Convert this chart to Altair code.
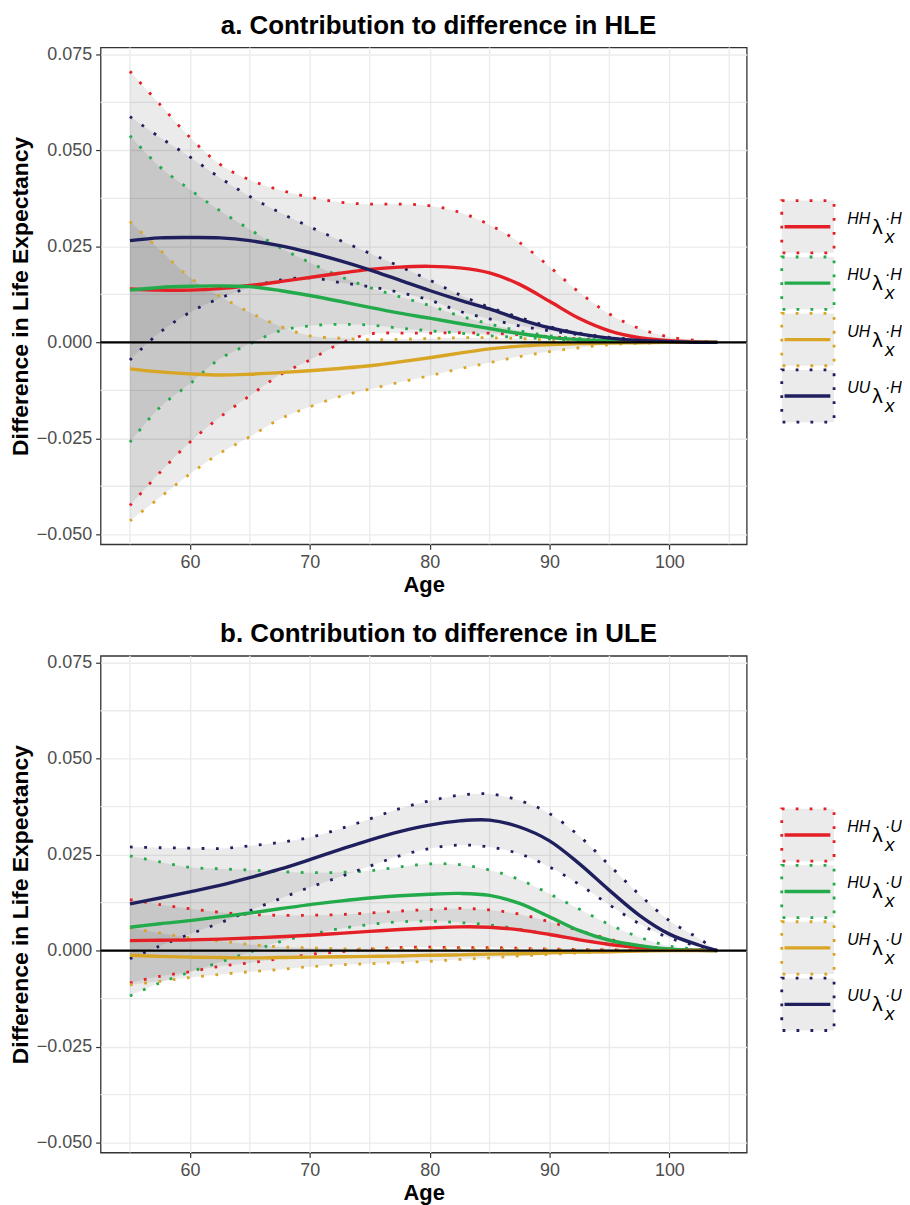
import altair as alt
import pandas as pd

# ---------------- data ----------------
ages = [55, 57.5, 60, 62.5, 65, 67.5, 70, 72.5, 75, 77.5, 80, 82.5, 85, 87.5, 90, 92.5, 95, 97.5, 100, 102.5, 104]

series_names = ["HH", "HU", "UH", "UU"]
series_colors = ["#E41F26", "#22AA4B", "#D9A525", "#1F1F5E"]

# panel a: contribution to difference in HLE
hle_HH_mid = [.0139, .0136, .0136, .0140, .0148, .0158, .0169, .0180, .0190, .0196, .0198, .0194, .0181, .0151, .0107, .0062, .0030, .0012, .0004, .0001, 0]
hle_HH_hi = [.0706, .0620, .0534, .0464, .0423, .0397, .0378, .0365, .0360, .0360, .0356, .0339, .0306, .0260, .0197, .0130, .0074, .0036, .0014, .0004, 0]
hle_HH_lo = [-.0425, -.0339, -.0260, -.0195, -.0139, -.0085, -.0046, -.0004, .0022, .0024, .0024, .0025, .0024, .0020, .0015, .0009, .0005, .0002, 0, 0, 0]

hle_HU_mid = [.0136, .0143, .0146, .0147, .0145, .0135, .0122, .0107, .0091, .0076, .0063, .0049, .0036, .0023, .0013, .0007, .0004, .0002, .0001, 0, 0]
hle_HU_hi = [.0538, .0457, .0398, .0343, .0294, .0247, .0208, .0172, .0143, .0119, .0096, .0069, .0048, .0030, .0017, .0010, .0005, .0002, .0001, 0, 0]
hle_HU_lo = [-.0260, -.0169, -.0108, -.0043, -.0004, .0030, .0043, .0047, .0045, .0037, .0030, .0024, .0017, .0013, .0009, .0005, .0003, .0001, 0, 0, 0]

hle_UH_mid = [-.0069, -.0077, -.0082, -.0085, -.0083, -.0079, -.0074, -.0068, -.0061, -.0051, -.0040, -.0028, -.0017, -.0010, -.0006, -.0003, -.0002, -.0001, 0, 0, 0]
hle_UH_hi = [.0315, .0241, .0169, .0120, .0078, .0042, .0017, .0011, .0007, .0008, .0010, .0012, .0012, .0010, .0006, .0004, .0002, .0001, 0, 0, 0]
hle_UH_lo = [-.0465, -.0404, -.0343, -.0289, -.0246, -.0200, -.0168, -.0141, -.0122, -.0104, -.0087, -.0069, -.0053, -.0037, -.0024, -.0014, -.0006, -.0003, 0, 0, 0]

hle_UU_mid = [.0265, .0272, .0273, .0272, .0265, .0252, .0234, .0213, .0189, .0162, .0135, .0110, .0087, .0060, .0038, .0022, .0011, .0005, .0002, 0, 0]
hle_UU_hi = [.0588, .0534, .0483, .0429, .0380, .0338, .0301, .0266, .0232, .0198, .0162, .0124, .0091, .0065, .0041, .0024, .0013, .0007, .0002, 0, 0]
hle_UU_lo = [-.0046, .0026, .0078, .0115, .0143, .0162, .0168, .0156, .0145, .0130, .0110, .0081, .0061, .0043, .0030, .0020, .0010, .0004, .0001, 0, 0]

# panel b: contribution to difference in ULE
ule_HH_mid = [.0026, .0027, .0028, .0030, .0033, .0036, .0040, .0045, .0050, .0055, .0059, .0062, .0061, .0054, .0042, .0028, .0016, .0008, .0003, .0001, 0]
ule_HH_hi = [.0133, .0120, .0109, .0100, .0094, .0092, .0092, .0094, .0098, .0103, .0107, .0110, .0106, .0095, .0075, .0052, .0030, .0013, .0004, .0001, 0]
ule_HH_lo = [-.0084, -.0067, -.0055, -.0041, -.0032, -.0021, -.0010, -.0003, .0004, .0008, .0009, .0008, .0008, .0006, .0004, .0003, .0002, .0001, 0, 0, 0]

ule_HU_mid = [.0061, .0070, .0078, .0088, .0098, .0109, .0120, .0129, .0137, .0143, .0147, .0149, .0144, .0123, .0088, .0052, .0027, .0013, .0004, .0001, 0]
ule_HU_hi = [.0247, .0231, .0217, .0213, .0210, .0206, .0203, .0204, .0208, .0218, .0226, .0224, .0210, .0185, .0148, .0108, .0068, .0035, .0012, .0003, 0]
ule_HU_lo = [-.0118, -.0084, -.0056, -.0030, -.0004, .0023, .0042, .0057, .0068, .0075, .0077, .0073, .0067, .0056, .0042, .0029, .0017, .0010, .0003, 0, 0]

ule_UH_mid = [-.0012, -.0015, -.0017, -.0018, -.0019, -.0018, -.0017, -.0016, -.0015, -.0014, -.0012, -.0011, -.0009, -.0008, -.0006, -.0004, -.0003, -.0001, 0, 0, 0]
ule_UH_hi = [.0059, .0046, .0033, .0025, .0016, .0010, .0007, .0005, .0004, .0004, .0004, .0004, .0004, .0003, .0003, .0002, .0002, .0001, 0, 0, 0]
ule_UH_lo = [-.0089, -.0080, -.0070, -.0062, -.0055, -.0049, -.0042, -.0037, -.0034, -.0031, -.0028, -.0023, -.0019, -.0014, -.0010, -.0006, -.0003, -.0001, 0, 0, 0]

ule_UU_mid = [.0122, .0137, .0153, .0170, .0190, .0212, .0237, .0263, .0288, .0310, .0327, .0338, .0340, .0322, .0286, .0226, .0157, .0092, .0043, .0014, 0]
ule_UU_hi = [.0270, .0268, .0267, .0266, .0273, .0282, .0295, .0317, .0343, .0370, .0390, .0405, .0408, .0391, .0357, .0298, .0222, .0146, .0078, .0031, 0]
ule_UU_lo = [-.0021, .0012, .0043, .0072, .0104, .0135, .0165, .0192, .0220, .0247, .0266, .0275, .0270, .0252, .0218, .0172, .0119, .0070, .0033, .0011, 0]

x_ticks = [60, 70, 80, 90, 100]
x_minor = [55, 65, 75, 85, 95, 105]
y_ticks = [-0.05, -0.025, 0.0, 0.025, 0.05, 0.075]
y_minor = [-0.0375, -0.0125, 0.0125, 0.0375, 0.0625]

panel_titles = ["a. Contribution to difference in HLE", "b. Contribution to difference in ULE"]
legend_suffixes = ["·H", "·U"]

# ---------------- helpers ----------------
FONT = "Liberation Sans"
INTERP = "catmull-rom"
X_SCALE = alt.Scale(domain=[52.55, 106.45], nice=False, zero=False)
Y_SCALE = alt.Scale(domain=[-0.0526, 0.0768], nice=False, zero=False)
COLOR_SCALE = alt.Scale(domain=series_names, range=series_colors)

X_AXIS = alt.Axis(values=x_ticks, title="Age", grid=True, labelPadding=4, titlePadding=3,
                  titleFontSize=22)
Y_AXIS = alt.Axis(values=y_ticks, title="Difference in Life Expectancy", format=".3f",
                  grid=True, labelPadding=4, titlePadding=4, titleFontSize=23)


def build_frames(mids, his, los):
    rows, bands = [], []
    for s, m, h, l in zip(series_names, mids, his, los):
        for a, mv, hv, lv in zip(ages, m, h, l):
            rows.append({"age": a, "series": s, "mid": mv, "hi": hv, "lo": lv})
            bands.append({"age": a, "series": s, "bound": "hi", "val": hv})
            bands.append({"age": a, "series": s, "bound": "lo", "val": lv})
    return pd.DataFrame(rows), pd.DataFrame(bands)


def make_panel(mids, his, los, title):
    df, bands = build_frames(mids, his, los)
    x_enc = alt.X("age:Q", scale=X_SCALE, axis=X_AXIS)

    grid_x = alt.Chart(pd.DataFrame({"v": x_minor})).mark_rule(
        color="#EBEBEB", strokeWidth=1.4
    ).encode(x=alt.X("v:Q", scale=X_SCALE, axis=X_AXIS))
    grid_y = alt.Chart(pd.DataFrame({"v": y_minor})).mark_rule(
        color="#EBEBEB", strokeWidth=1.4
    ).encode(y=alt.Y("v:Q", scale=Y_SCALE, axis=Y_AXIS))

    ribbons = alt.Chart(df).mark_area(
        color="#000000", opacity=0.08, interpolate=INTERP
    ).encode(
        x=x_enc,
        y=alt.Y("lo:Q", scale=Y_SCALE, axis=Y_AXIS),
        y2="hi:Q",
        detail="series:N",
    )

    dotted = alt.Chart(bands).mark_line(
        strokeWidth=2.8, strokeDash=[2.8, 11.6], interpolate=INTERP
    ).encode(
        x=x_enc,
        y=alt.Y("val:Q", scale=Y_SCALE, axis=Y_AXIS),
        color=alt.Color("series:N", scale=COLOR_SCALE, legend=None),
        detail="bound:N",
    )

    solid = alt.Chart(df).mark_line(strokeWidth=3.4, interpolate=INTERP).encode(
        x=x_enc,
        y=alt.Y("mid:Q", scale=Y_SCALE, axis=Y_AXIS),
        color=alt.Color("series:N", scale=COLOR_SCALE, legend=None),
    )

    zero = alt.Chart(pd.DataFrame({"z": [0.0]})).mark_rule(
        color="black", strokeWidth=2.2
    ).encode(y=alt.Y("z:Q", scale=Y_SCALE, axis=Y_AXIS))

    return alt.layer(grid_x, grid_y, ribbons, dotted, solid, zero).properties(
        width=649,
        height=499,
        title=alt.TitleParams(
            title, fontSize=26, fontWeight="bold", font=FONT, anchor="middle",
            frame="group", dx=15, offset=7, color="black",
        ),
        view=alt.ViewBackground(stroke="#333333", strokeWidth=1.3),
    )


def make_legend(suffix):
    ldf = pd.DataFrame({"series": series_names, "idx": list(range(len(series_names)))})
    ly = alt.Y("idx:Q", scale=alt.Scale(domain=[-3.175, 5.626], reverse=True, nice=False, zero=False), axis=None)
    col = alt.Color("series:N", scale=COLOR_SCALE, legend=None)
    base = alt.Chart(ldf)
    boxes = base.mark_point(
        shape="square", size=2760, filled=True, fill="#EBEBEB", opacity=1,
        strokeWidth=2.8, strokeDash=[2.8, 11.2],
    ).encode(x=alt.value(61.5), y=ly, stroke=col)
    keys = base.mark_rule(strokeWidth=3.4).encode(
        x=alt.value(38), x2=alt.value(84), y=ly, color=col
    )
    pre = base.mark_text(
        align="left", baseline="alphabetic", font=FONT, fontStyle="italic", fontSize=16, dy=-3
    ).encode(x=alt.value(101), y=ly, text="series:N")
    lam = base.mark_text(
        align="left", baseline="alphabetic", font=FONT, fontSize=21, dy=7
    ).encode(x=alt.value(126), y=ly, text=alt.value("λ"))
    sub = base.mark_text(
        align="left", baseline="alphabetic", font=FONT, fontStyle="italic", fontSize=19, dy=16
    ).encode(x=alt.value(139), y=ly, text=alt.value("x"))
    sup = base.mark_text(
        align="left", baseline="alphabetic", font=FONT, fontStyle="italic", fontSize=16, dy=-3
    ).encode(x=alt.value(139), y=ly, text=alt.value(suffix))
    return alt.layer(boxes, keys, pre, lam, sub, sup).properties(
        width=150, height=499, view=alt.ViewBackground(stroke=None)
    )


row_a = alt.hconcat(
    make_panel([hle_HH_mid, hle_HU_mid, hle_UH_mid, hle_UU_mid],
               [hle_HH_hi, hle_HU_hi, hle_UH_hi, hle_UU_hi],
               [hle_HH_lo, hle_HU_lo, hle_UH_lo, hle_UU_lo], panel_titles[0]),
    make_legend(legend_suffixes[0]),
    spacing=0, bounds="flush",
)
row_b = alt.hconcat(
    make_panel([ule_HH_mid, ule_HU_mid, ule_UH_mid, ule_UU_mid],
               [ule_HH_hi, ule_HU_hi, ule_UH_hi, ule_UU_hi],
               [ule_HH_lo, ule_HU_lo, ule_UH_lo, ule_UU_lo], panel_titles[1]),
    make_legend(legend_suffixes[1]),
    spacing=0, bounds="flush",
)

chart = alt.vconcat(row_a, row_b, spacing=24).properties(
    padding={"left": 0, "top": 1, "right": 0, "bottom": 0}
).configure_view(stroke=None).configure_axis(
    labelFont=FONT, labelFontSize=18, labelColor="#4D4D4D",
    titleFont=FONT, titleFontWeight="bold", titleColor="black",
    tickColor="#333333", tickSize=5, tickWidth=1.2, domain=False,
    gridColor="#EBEBEB", gridWidth=1.4,
).configure_concat(spacing=0)

chart.save("out.html", embed_options={"renderer": "svg", "actions": False})
